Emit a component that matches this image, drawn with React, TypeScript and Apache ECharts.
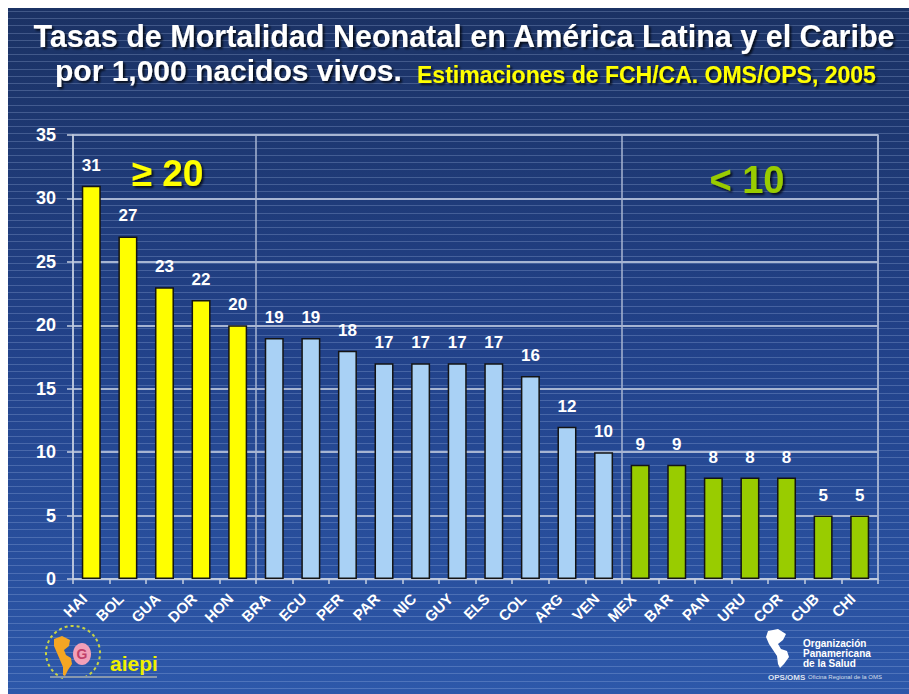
import React, { useEffect, useRef } from "react";
import * as echarts from "echarts";

// ---- Data ----
const categories = ["HAI", "BOL", "GUA", "DOR", "HON", "BRA", "ECU", "PER", "PAR", "NIC", "GUY", "ELS", "COL", "ARG", "VEN", "MEX", "BAR", "PAN", "URU", "COR", "CUB", "CHI"];
const values = [31, 27, 23, 22, 20, 19, 19, 18, 17, 17, 17, 17, 16, 12, 10, 9, 9, 8, 8, 8, 5, 5];
const groups = ["high", "high", "high", "high", "high", "mid", "mid", "mid", "mid", "mid", "mid", "mid", "mid", "mid", "mid", "low", "low", "low", "low", "low", "low", "low"];
const groupColors: Record<string, string> = { high: "#ffff00", mid: "#a9d1f5", low: "#99cc00" };
const yMin = 0;
const yMax = 35;
const yInterval = 5;
const titleLine1 = "Tasas de Mortalidad Neonatal en América Latina y el Caribe";
const titleLine2a = "por 1,000 nacidos vivos.";
const titleLine2b = "Estimaciones de FCH/CA. OMS/OPS, 2005";
const highLabel = "≥ 20";
const lowLabel = "< 10";

const FONT = "'Liberation Sans', Arial, Helvetica, sans-serif";

export default function App() {
  const ref = useRef<HTMLDivElement>(null);

  useEffect(() => {
    document.body.style.margin = "0";
    if (!ref.current) return;
    const chart = echarts.init(ref.current, undefined, { renderer: "svg" });
    const W = 901;
    const H = 686;

    // group boundaries for vertical divider lines
    const boundaries: number[] = [];
    for (let i = 1; i < groups.length; i++) if (groups[i] !== groups[i - 1]) boundaries.push(i);

    // decorative background stripes
    const stripes: any[] = [];
    for (let y = 3; y < H; y += 7.2) {
      stripes.push({
        type: "line",
        silent: true,
        z: -10,
        shape: { x1: 0, y1: Math.round(y) + 0.5, x2: W, y2: Math.round(y) + 0.5 },
        style: { stroke: "rgba(190,210,245,0.24)", lineWidth: 1 },
      });
    }

    const shadowText = {
      textShadowColor: "rgba(0,0,0,0.75)",
      textShadowBlur: 2,
      textShadowOffsetX: 2,
      textShadowOffsetY: 2,
    };

    const graphics: any[] = [
      ...stripes,
      {
        type: "text",
        x: 456,
        y: 27.5,
        style: { text: titleLine1, fill: "#ffffff", font: `bold 30.5px ${FONT}`, align: "center", verticalAlign: "middle", ...shadowText },
      },
      {
        type: "text",
        x: 47,
        y: 62.5,
        style: { text: titleLine2a, fill: "#ffffff", font: `bold 30px ${FONT}`, align: "left", verticalAlign: "middle", ...shadowText },
      },
      {
        type: "text",
        x: 409,
        y: 67,
        style: { text: titleLine2b, fill: "#ffff00", font: `bold 23px ${FONT}`, align: "left", verticalAlign: "middle", ...shadowText },
      },
      {
        type: "text",
        x: 159.5,
        y: 165,
        style: { text: highLabel, fill: "#ffff00", font: `bold 37px ${FONT}`, align: "center", verticalAlign: "middle", ...shadowText },
      },
      {
        type: "text",
        x: 739,
        y: 172,
        style: { text: lowLabel, fill: "#99cc00", font: `bold 38px ${FONT}`, align: "center", verticalAlign: "middle", ...shadowText },
      },
      // aiepi logo
      {
        type: "arc",
        shape: { cx: 65, cy: 645, r: 27, startAngle: Math.PI * 0.62, endAngle: Math.PI * 2.38 },
        style: { stroke: "#c9d445", lineWidth: 2, lineDash: [3, 3], fill: "none" },
      },
      {
        type: "polygon",
        shape: {
          points: [[46, 631], [54, 628], [62, 632], [61, 638], [56, 642], [58, 647], [63, 650], [64, 656], [60, 662], [57, 668], [55, 667], [55, 659], [52, 652], [49, 645], [46, 638]],
        },
        style: { fill: "#f5a623" },
      },
      {
        type: "ellipse",
        shape: { cx: 74, cy: 646, rx: 9, ry: 11 },
        style: { fill: "#f2a0b8" },
      },
      {
        type: "text",
        x: 74,
        y: 646,
        style: { text: "G", fill: "#c0406a", font: `bold 14px ${FONT}`, align: "center", verticalAlign: "middle" },
      },
      {
        type: "text",
        x: 102,
        y: 655,
        style: { text: "aiepi", fill: "#f0f000", font: `bold 21px ${FONT}`, align: "left", verticalAlign: "middle" },
      },
      {
        type: "line",
        shape: { x1: 42, y1: 669, x2: 149, y2: 669 },
        style: { stroke: "#8797ad", lineWidth: 2 },
      },
      // OPS logo
      {
        type: "polygon",
        shape: {
          points: [[760, 623], [770, 621], [778, 626], [775, 632], [770, 636], [773, 641], [779, 643], [781, 649], [776, 656], [772, 660], [770, 656], [769, 648], [765, 642], [761, 636], [758, 629]],
        },
        style: { fill: "#ffffff" },
      },
      {
        type: "text",
        x: 795,
        y: 630,
        style: { text: "Organización\nPanamericana\nde la Salud", fill: "#ffffff", font: `bold 10px ${FONT}`, lineHeight: 10, align: "left", verticalAlign: "top" },
      },
      {
        type: "text",
        x: 760,
        y: 669,
        style: { text: "OPS/OMS", fill: "rgba(255,255,255,0.85)", font: `bold 8px ${FONT}`, align: "left", verticalAlign: "middle" },
      },
      {
        type: "text",
        x: 800,
        y: 669,
        style: { text: "Oficina Regional de la OMS", fill: "rgba(255,255,255,0.8)", font: `6px ${FONT}`, align: "left", verticalAlign: "middle" },
      },
    ];

    chart.setOption({
      animation: false,
      backgroundColor: {
        type: "linear",
        x: 0, y: 0, x2: 0, y2: 1,
        colorStops: [
          { offset: 0, color: "#1b3264" },
          { offset: 0.5, color: "#22428a" },
          { offset: 1, color: "#2d58aa" },
        ],
      },
      grid: { left: 65, right: 31, top: 127, bottom: 115, show: true, borderColor: "#a7b5d2", borderWidth: 1.5, backgroundColor: "transparent" },
      xAxis: {
        type: "category",
        data: categories,
        boundaryGap: true,
        axisLine: { show: true, lineStyle: { color: "#c6cfe0", width: 1.5 } },
        axisTick: { show: true, alignWithLabel: false, length: 5, lineStyle: { color: "#c6cfe0", width: 1.5 } },
        axisLabel: {
          rotate: 45,
          margin: 10,
          padding: [0, 10, 0, 0],
          color: "#ffffff",
          fontFamily: FONT,
          fontWeight: "bold",
          fontSize: 15,
          interval: 0,
        },
        splitLine: {
          show: true,
          interval: (index: number) => boundaries.indexOf(index) >= 0,
          lineStyle: { color: "#a7b5d2", width: 1.5 },
        },
      },
      yAxis: {
        type: "value",
        min: yMin,
        max: yMax,
        interval: yInterval,
        axisLine: { show: true, lineStyle: { color: "#c6cfe0", width: 1.5 } },
        axisTick: { show: true, length: 6, lineStyle: { color: "#c6cfe0", width: 1.5 } },
        axisLabel: { color: "#ffffff", fontFamily: FONT, fontWeight: "bold", fontSize: 18, margin: 17 },
        splitLine: { show: true, lineStyle: { color: "#a7b5d2", width: 2 } },
      },
      series: [
        {
          type: "bar",
          barWidth: 19,
          data: values.map((v, i) => ({
            value: v,
            itemStyle: { color: groupColors[groups[i]] },
          })),
          itemStyle: { borderColor: "#141414", borderWidth: 1.5 },
          label: {
            show: true,
            position: "top",
            distance: 12,
            color: "#ffffff",
            fontFamily: FONT,
            fontWeight: "bold",
            fontSize: 17,
          },
        },
      ],
      graphic: graphics,
    });

    return () => chart.dispose();
  }, []);

  return (
    <div style={{ width: 909, height: 694, background: "#ffffff", position: "relative", overflow: "hidden" }}>
      <div ref={ref} style={{ position: "absolute", left: 8, top: 8, width: 901, height: 686 }} />
    </div>
  );
}
